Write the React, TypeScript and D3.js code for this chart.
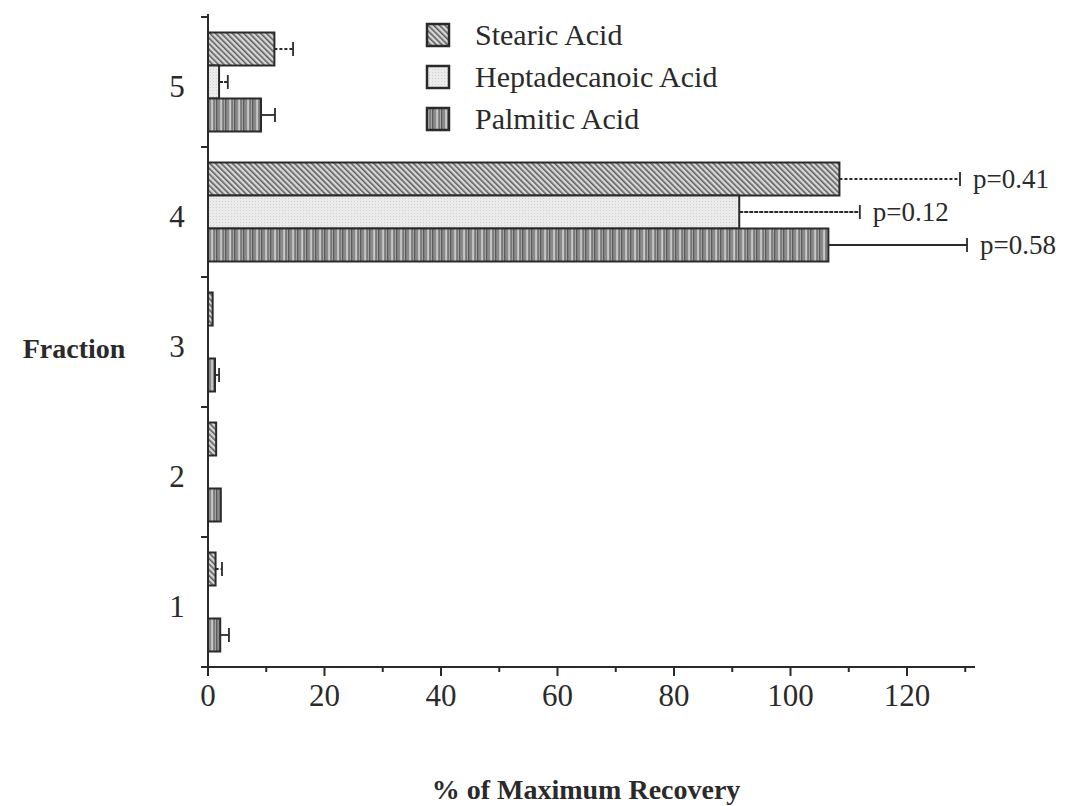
import React from "react";
import * as d3 from "d3";

// Fractions listed top to bottom
const fractions = ["5", "4", "3", "2", "1"];
const acids = ["Stearic Acid", "Heptadecanoic Acid", "Palmitic Acid"];

// % of maximum recovery per fraction (order follows `fractions`)
const stearic = [11.4, 108.4, 0.8, 1.4, 1.3];
const heptadecanoic = [1.9, 91.2, 0, 0, 0];
const palmitic = [9.1, 106.5, 1.2, 2.2, 2.1];

// upper end of each error bar (0 = none drawn)
const stearicErr = [14.6, 129.1, 0, 0, 2.4];
const heptadecanoicErr = [3.4, 111.9, 0, 0, 0];
const palmiticErr = [11.5, 130.3, 1.9, 0, 3.6];

const pLabels = ["p=0.41", "p=0.12", "p=0.58"];
const xTicks = [0, 20, 40, 60, 80, 100, 120];
const xMinorTicks = [10, 30, 50, 70, 90, 110, 130];

const seriesValues = [stearic, heptadecanoic, palmitic];
const seriesErrors = [stearicErr, heptadecanoicErr, palmiticErr];
const fills = ["url(#hatch)", "url(#dots)", "url(#vlines)"];
const errDash = ["3,2", "4,1", null];

export default function App() {
  const W = 1075;
  const H = 806;
  const x = d3.scaleLinear().domain([0, 131.5]).range([208, 974]);
  const y = d3.scaleBand<string>().domain(fractions).range([17, 667]).padding(0);
  const inner = d3
    .scaleBand<string>()
    .domain(acids)
    .range([0, y.bandwidth()])
    .paddingInner(0)
    .paddingOuter(0.47);
  const font = "'Liberation Serif', 'Times New Roman', serif";
  const ink = "#2a2a2a";

  const fraction4 = fractions.indexOf("4");

  return (
    <svg
      width={W}
      height={H}
      style={{ position: "absolute", left: 0, top: 0, background: "#fff" }}
      fontFamily={font}
    >
      <defs>
        <pattern id="hatch" patternUnits="userSpaceOnUse" width="4" height="4" patternTransform="rotate(-45)">
          <rect width="4" height="4" fill="#d8d8d8" />
          <line x1="0.8" y1="0" x2="0.8" y2="4" stroke="#5e5e5e" strokeWidth="1.6" />
        </pattern>
        <pattern id="dots" patternUnits="userSpaceOnUse" width="3" height="3">
          <rect width="3" height="3" fill="#ebebeb" />
          <rect width="1" height="1" fill="#d2d2d2" />
        </pattern>
        <pattern id="vlines" patternUnits="userSpaceOnUse" width="9" height="4">
          <rect width="9" height="4" fill="#a4a4a4" />
          <rect x="0" width="1.5" height="4" fill="#5a5a5a" />
          <rect x="2.5" width="1" height="4" fill="#707070" />
          <rect x="4.5" width="1.2" height="4" fill="#d6d6d6" />
          <rect x="6.5" width="1.2" height="4" fill="#666" />
        </pattern>
      </defs>

      {/* bars and error bars */}
      {fractions.map((f, fi) =>
        acids.map((a, si) => {
          const v = seriesValues[si][fi];
          const e = seriesErrors[si][fi];
          const y0 = (y(f) as number) + (inner(a) as number);
          const bh = inner.bandwidth();
          const cy = y0 + bh / 2;
          return (
            <g key={f + a}>
              {v > 0 && (
                <rect
                  x={x(0)}
                  y={y0}
                  width={x(v) - x(0)}
                  height={bh}
                  fill={fills[si]}
                  stroke={ink}
                  strokeWidth={2}
                />
              )}
              {e > 0 && (
                <g stroke={ink} strokeWidth={1.8}>
                  <line
                    x1={x(v)}
                    x2={x(e)}
                    y1={cy}
                    y2={cy}
                    strokeDasharray={errDash[si] ?? undefined}
                  />
                  <line x1={x(e)} x2={x(e)} y1={cy - 7} y2={cy + 7} />
                </g>
              )}
            </g>
          );
        })
      )}

      {/* p-values beside fraction 4 error bars */}
      {acids.map((a, si) => {
        const y0 = (y(fractions[fraction4]) as number) + (inner(a) as number);
        const cy = y0 + inner.bandwidth() / 2;
        const e = seriesErrors[si][fraction4];
        return (
          <text key={a} x={x(e) + 13} y={cy + 9} fontSize={27} fill={ink}>
            {pLabels[si]}
          </text>
        );
      })}

      {/* x axis */}
      <g stroke={ink} strokeWidth={2}>
        <line x1={x(0) - 1} x2={975} y1={667} y2={667} />
        {xTicks.map((t) => (
          <line key={t} x1={x(t)} x2={x(t)} y1={667} y2={676} />
        ))}
        {xMinorTicks.map((t) => (
          <line key={t} x1={x(t)} x2={x(t)} y1={667} y2={672} />
        ))}
      </g>
      {xTicks.map((t) => (
        <text key={t} x={x(t)} y={706} fontSize={31} textAnchor="middle" fill={ink}>
          {t}
        </text>
      ))}

      {/* y axis */}
      <g stroke={ink} strokeWidth={2}>
        <line x1={x(0)} x2={x(0)} y1={14} y2={667} />
        {fractions.map((f) => (
          <line key={f} x1={x(0) - 7} x2={x(0)} y1={y(f) as number} y2={y(f) as number} />
        ))}
        <line x1={x(0) - 7} x2={x(0)} y1={667} y2={667} />
      </g>
      {fractions.map((f) => (
        <text
          key={f}
          x={177}
          y={(y(f) as number) + y.bandwidth() / 2 + 15}
          fontSize={31}
          textAnchor="middle"
          fill={ink}
        >
          {f}
        </text>
      ))}

      {/* axis titles */}
      <text x={74} y={358} fontSize={28} fontWeight="bold" textAnchor="middle" fill={ink}>
        Fraction
      </text>
      <text x={586} y={799} fontSize={28} fontWeight="bold" textAnchor="middle" fill={ink}>
        % of Maximum Recovery
      </text>

      {/* legend */}
      {acids.map((a, si) => {
        const ly = 24 + si * 42;
        return (
          <g key={a}>
            <rect x={427} y={ly} width={22} height={22} fill={fills[si]} stroke={ink} strokeWidth={2.5} />
            <text x={475} y={ly + 21} fontSize={30} fill={ink}>
              {a}
            </text>
          </g>
        );
      })}
    </svg>
  );
}
